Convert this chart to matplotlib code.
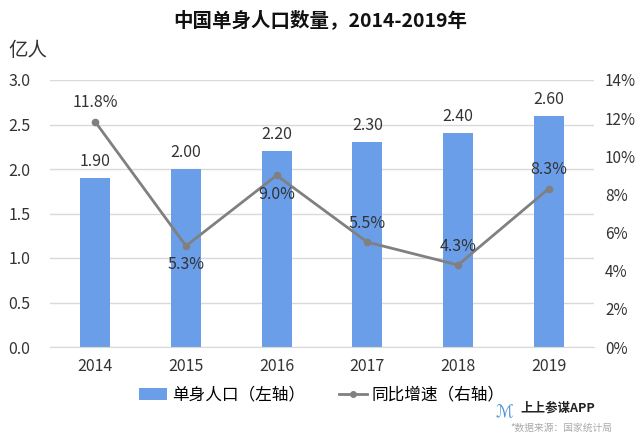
import matplotlib
matplotlib.use("Agg")
import matplotlib.pyplot as plt
from matplotlib.ticker import FuncFormatter, MultipleLocator
from matplotlib.lines import Line2D
from matplotlib.patches import Patch

plt.rcParams['font.family'] = ['Noto Sans CJK SC', 'DejaVu Sans']

years = ['2014', '2015', '2016', '2017', '2018', '2019']
singles = [1.90, 2.00, 2.20, 2.30, 2.40, 2.60]
growth = [11.8, 5.3, 9.0, 5.5, 4.3, 8.3]
growth_label_pos = ['above', 'below', 'below', 'above', 'above', 'above']

bar_color = '#6b9ee8'
line_color = '#808080'
text_color = '#333333'

fig = plt.figure(figsize=(6.4, 4.41), dpi=100)
ax = fig.add_axes([50/640, 1-347/441, (594-50)/640, (347-80)/441])
x = list(range(len(years)))
ax.bar(x, singles, width=0.33, color=bar_color, zorder=2)
ax.set_xlim(-0.5, 5.5)
ax.set_ylim(0, 3.0)
ax.yaxis.set_major_locator(MultipleLocator(0.5))
ax.yaxis.set_major_formatter(FuncFormatter(lambda v, p: f"{v:.1f}"))
ax.grid(axis='y', color='#d9d9d9', linewidth=1, zorder=0)
ax.set_xticks(x)
ax.set_xticklabels(years)
for s in ['top', 'right', 'left']:
    ax.spines[s].set_visible(False)
ax.spines['bottom'].set_color('#d9d9d9')
ax.tick_params(axis='both', length=0, labelsize=11.5, colors=text_color)
ax.tick_params(axis='y', pad=14)
ax.tick_params(axis='x', pad=8)

for xi, v in zip(x, singles):
    ax.text(xi, v + 0.09, f"{v:.2f}", ha='center', va='bottom', fontsize=11.5, color=text_color, zorder=5)

ax2 = ax.twinx()
ax2.plot(x, growth, color=line_color, linewidth=2, marker='o', markersize=4.5, zorder=3)
ax2.set_ylim(0, 14)
ax2.yaxis.set_major_locator(MultipleLocator(2))
ax2.yaxis.set_major_formatter(FuncFormatter(lambda v, p: f"{int(round(v))}%"))
for s in ['top', 'right', 'left', 'bottom']:
    ax2.spines[s].set_visible(False)
ax2.tick_params(axis='y', length=0, labelsize=11, colors=text_color, pad=8)

for xi, v, pos in zip(x, growth, growth_label_pos):
    if pos == 'above':
        ax2.text(xi, v + 0.55, f"{v:.1f}%", ha='center', va='bottom', fontsize=11.5, color=text_color, zorder=5)
    else:
        ax2.text(xi, v - 0.55, f"{v:.1f}%", ha='center', va='top', fontsize=11.5, color=text_color, zorder=5)

fig.text(0.5, 1-20/441, '中国单身人口数量，2014-2019年', ha='center', va='center', fontsize=14, fontweight='bold', color='#111111')
fig.text(8/640, 1-50/441, '亿人', ha='left', va='center', fontsize=14, color=text_color)

handles = [Patch(facecolor=bar_color, edgecolor='none'),
           Line2D([0], [0], color=line_color, linewidth=2, marker='o', markersize=4)]
fig.legend(handles, ['单身人口（左轴）', '同比增速（右轴）'], loc='center', bbox_to_anchor=(322/640, 1-395/441),
           ncol=2, frameon=False, fontsize=12, handlelength=1.7, columnspacing=2.0, handletextpad=0.3)

fig.text(520/640, 1-408/441, '上上参谋APP', ha='left', va='center', fontsize=9, color='#222222', fontweight='bold')
fig.text(510/640, 1-428/441, '*数据来源：国家统计局', ha='left', va='center', fontsize=7, color='#aaaaaa')
fig.text(504/640, 1-412/441, 'ℳ', ha='center', va='center', fontsize=12, color='#4a8fd8')

fig.savefig('out.png', dpi=100)
